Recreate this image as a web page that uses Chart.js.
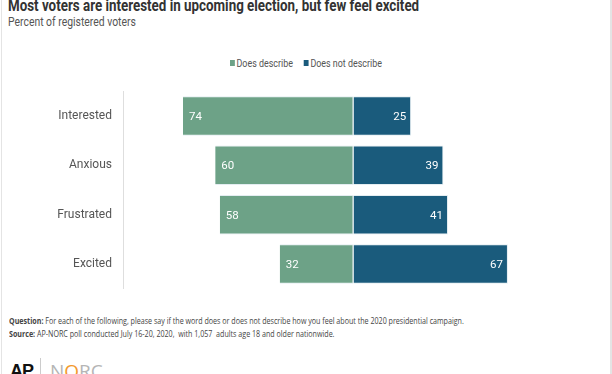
<!DOCTYPE html>
<html>
<head>
<meta charset="utf-8">
<script src="https://cdn.jsdelivr.net/npm/chart.js@4"></script>
<style>
  html, body { margin: 0; padding: 0; background: #fff; }
  body { width: 612px; height: 374px; overflow: hidden; position: relative; font-family: Roboto, sans-serif; }
  #frame { position: absolute; left: 1px; top: -2px; width: 608px; height: 380px; border-left: 1px solid #e4e4e4; border-right: 2px solid #e4e4e4; }
  .sx { position: absolute; transform-origin: 0 0; white-space: nowrap; }
  #title { left: 8px; top: -4px; font-size: 16.5px; font-weight: bold; color: #333; transform: scaleX(0.81); }
  #sub { left: 8px; top: 14px; font-size: 13px; color: #555; transform: scaleX(0.8); }
  #legend { left: 230px; top: 57px; font-size: 11px; color: #555; transform: scaleX(0.81); }
  #legend span.box { display: inline-block; width: 6px; height: 6px; margin-right: 2px; vertical-align: 1px; }
  #bars { position: absolute; left: 0; top: 73px; }
  .foot { position: absolute; left: 9px; font-family: "Open Sans", sans-serif; font-size: 8.6px; color: #444; white-space: nowrap; transform-origin: 0 0; transform: scaleX(0.828); }
  #q { top: 315px; }
  #s { top: 328px; }
  #ap { position: absolute; left: 10px; top: 361px; font-family: "Liberation Sans", sans-serif; font-weight: bold; font-size: 18px; color: #111; letter-spacing: -1px; }
  #sep { position: absolute; left: 40px; top: 358px; width: 1px; height: 20px; background: #ccc; }
  #norc { position: absolute; left: 50px; top: 358px; font-family: "Open Sans", sans-serif; font-size: 19px; color: #b5b5b5; letter-spacing: 0px; }
  #norc b { color: #f39a2d; font-weight: normal; }
</style>
</head>
<body>
<div id="frame"></div>
<div id="title" class="sx">Most voters are interested in upcoming election, but few feel excited</div>
<div id="sub" class="sx">Percent of registered voters</div>
<div id="legend" class="sx"><span class="box" style="background:#6da287"></span>Does describe&nbsp;&nbsp;&nbsp;&nbsp;&nbsp;<span class="box" style="background:#1a5b7c"></span>Does not describe</div>
<canvas id="bars" width="612" height="234"></canvas>
<div id="q" class="foot"><b>Question:</b> For each of the following, please say if the word does or does not describe how you feel about the 2020 presidential campaign.</div>
<div id="s" class="foot"><b>Source:</b> AP-NORC poll conducted July 16-20, 2020,&nbsp; with 1,057&nbsp; adults age 18 and older nationwide.</div>
<div id="ap">AP</div>
<div id="sep"></div>
<div id="norc">N<b>O</b>RC</div>
<script>
// data
const categories = ["Interested", "Anxious", "Frustrated", "Excited"];
const doesDescribe = [74, 60, 58, 32];
const doesNotDescribe = [25, 39, 41, 67];

const greenCol = "#6da287";
const blueCol = "#1a5b7c";

// white numbers inside bars
const barLabels = {
  id: "barLabels",
  afterDatasetsDraw(chart) {
    const c = chart.ctx;
    c.save();
    c.font = "11.5px Roboto";
    c.fillStyle = "#fff";
    c.textBaseline = "middle";
    chart.data.datasets.forEach((ds, i) => {
      const meta = chart.getDatasetMeta(i);
      meta.data.forEach((bar, j) => {
        const v = Math.abs(ds.data[j]);
        const lo = Math.min(bar.x, bar.base);
        const hi = Math.max(bar.x, bar.base);
        if (ds.data[j] < 0) {
          c.textAlign = "left";
          c.fillText(v, lo + 6, bar.y + 1);
        } else {
          c.textAlign = "right";
          c.fillText(v, hi - 5, bar.y + 1);
        }
      });
    });
    c.restore();
  }
};

const ctx = document.getElementById("bars").getContext("2d");
new Chart(ctx, {
  type: "bar",
  data: {
    labels: categories,
    datasets: [
      {
        label: "Does describe",
        data: doesDescribe.map(v => -v),
        backgroundColor: greenCol,
        borderColor: "rgba(225,235,240,0.9)",
        borderWidth: 1,
        borderSkipped: "end",
        barPercentage: 0.8,
        categoryPercentage: 1
      },
      {
        label: "Does not describe",
        data: doesNotDescribe,
        backgroundColor: blueCol,
        borderColor: "rgba(225,235,240,0.9)",
        borderWidth: 1,
        borderSkipped: "start",
        barPercentage: 0.8,
        categoryPercentage: 1
      }
    ]
  },
  options: {
    indexAxis: "y",
    responsive: false,
    animation: false,
    layout: { padding: { top: 6, bottom: 8, right: 28, left: 0 } },
    plugins: {
      legend: { display: false },
      tooltip: { enabled: false }
    },
    scales: {
      x: {
        stacked: true,
        min: -100,
        max: 100,
        display: false
      },
      y: {
        stacked: true,
        grid: { display: false, drawTicks: false },
        border: { display: true, color: "#dedede", width: 1 },
        ticks: {
          color: "#555",
          padding: 11,
          font: { family: "Roboto", size: 12 }
        },
        afterFit(scale) { scale.width = 123; }
      }
    }
  },
  plugins: [barLabels]
});
</script>
</body>
</html>
